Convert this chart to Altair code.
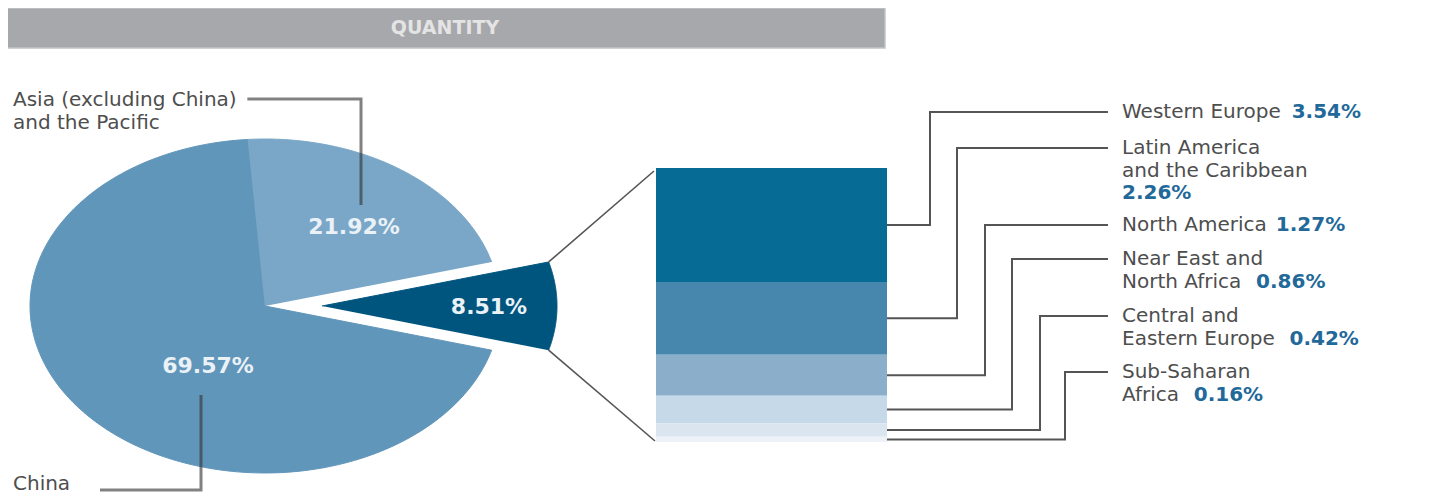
import altair as alt
import numpy as np
import pandas as pd

# ---------------- data ----------------
title_text = "QUANTITY"

pie_regions = ["Asia (excluding China) and the Pacific", "Other regions", "China"]
pie_values = [21.92, 8.51, 69.57]
pie_name_lines = [["Asia (excluding China)", "and the Pacific"], [], ["China"]]

bar_regions = [
    "Western Europe",
    "Latin America and the Caribbean",
    "North America",
    "Near East and North Africa",
    "Central and Eastern Europe",
    "Sub-Saharan Africa",
]
bar_values = [3.54, 2.26, 1.27, 0.86, 0.42, 0.16]
bar_name_lines = [
    ["Western Europe"],
    ["Latin America", "and the Caribbean"],
    ["North America"],
    ["Near East and", "North Africa"],
    ["Central and", "Eastern Europe"],
    ["Sub-Saharan", "Africa"],
]
value_on_new_line = [False, True, False, False, False, False]

# ---------------- styles ----------------
FONT = "DejaVu Sans"
pie_colors = ["#7aa7c7", "#00557f", "#6196bb"]
bar_colors = ["#066b95", "#4787ae", "#8bafcb", "#c6d9e8", "#dae5f0", "#edf2f8"]
TEXT_GRAY = "#4e4e4e"
VALUE_BLUE = "#22699a"
PIE_TEXT = "#eaf1f7"
TITLE_BG = "#a7a8ab"
TITLE_FG = "#e4e4e4"
LINE_DARK = "#555555"

# ---------------- layout (reference pixel coordinates) ----------------
W, H = 1428, 487
xs = alt.Scale(domain=[8, 8 + W], range=[0, W], nice=False, zero=False)
ys = alt.Scale(domain=[8, 8 + H], range=[0, H], nice=False, zero=False)

CX, CY, RX, RY = 265, 306, 235, 167
START_DEG = -4.2
EXPLODED = "Other regions"
EXPLODE_DX = 57
N_STEPS = 120

BAR_X0, BAR_X1, BAR_Y0, BAR_Y1 = 656, 887, 168, 442
NAME_SIZE = 20
LINE_H = 22.5
TEXT_X = 1122
LEADER_END = 1108
bar_label_y = [112, 148, 225, 259, 316, 372]
leader_x = [930, 957, 985, 1012, 1040, 1065]
value_gap = [9, 0, 9, 14, 14, 14]

pie_value_pos = [(354, 227), (489, 307), (208, 366)]
pie_name_pos = [(13, 100), None, (13, 484)]

ADV = {' ': 651, '(': 799, ')': 799, '-': 739, '.': 651, '%': 1946,
       'A': 1401, 'C': 1430, 'E': 1294, 'L': 1141, 'N': 1532, 'P': 1235,
       'S': 1300, 'W': 2025, 'a': 1255, 'b': 1300, 'c': 1126, 'd': 1300,
       'e': 1260, 'f': 721, 'g': 1300, 'h': 1298, 'i': 569, 'l': 569,
       'm': 1995, 'n': 1298, 'o': 1253, 'p': 1300, 'r': 842, 's': 1067,
       't': 803, 'u': 1298, 'x': 1212}


def text_w(s, size):
    return sum(ADV.get(ch, 1200) for ch in s) / 2048 * size


def X(f):
    return alt.X(f, type="quantitative", scale=xs, axis=None)


def Y(f):
    return alt.Y(f, type="quantitative", scale=ys, axis=None)


layers = []

# ---------------- title bar ----------------
title_df = pd.DataFrame({"x0": [5], "x1": [885], "y0": [8], "y1": [48], "tx": [445], "ty": [28], "text": [title_text]})
layers.append(
    alt.Chart(title_df).mark_rect(color=TITLE_BG, stroke="#c2c3c5", strokeWidth=1.5)
    .encode(x=X("x0"), x2=alt.X2("x1"), y=Y("y0"), y2=alt.Y2("y1"))
)
layers.append(
    alt.Chart(title_df).mark_text(font=FONT, fontSize=19, fontWeight="bold", color=TITLE_FG,
                                  align="center", baseline="middle")
    .encode(x=X("tx"), y=Y("ty"), text="text:N")
)

# ---------------- elliptical pie ----------------
pie_df = pd.DataFrame({"region": pie_regions, "value": pie_values, "idx": list(range(len(pie_regions)))})
start_rad = np.deg2rad(START_DEG)
pie_base = (
    alt.Chart(pie_df)
    .transform_window(cum="sum(value)", sort=[alt.SortField("idx")], frame=[None, 0])
    .transform_joinaggregate(total="sum(value)")
    .transform_calculate(
        t0=f"{start_rad} + 2*PI*(datum.cum - datum.value)/datum.total",
        t1=f"{start_rad} + 2*PI*datum.cum/datum.total",
        dx=f"datum.region == '{EXPLODED}' ? {EXPLODE_DX} : 0",
        k=f"sequence(0, {N_STEPS + 2})",
    )
    .transform_flatten(["k"])
    .transform_calculate(
        t=f"datum.t0 + (datum.t1 - datum.t0) * (datum.k - 1) / {N_STEPS}",
    )
    .transform_calculate(
        px=f"{CX} + datum.dx + (datum.k == 0 ? 0 : {RX} * sin(datum.t))",
        py=f"{CY} - (datum.k == 0 ? 0 : {RY} * cos(datum.t))",
    )
)
for r, c in zip(pie_regions, pie_colors):
    layers.append(
        pie_base.transform_filter(alt.datum.region == r)
        .mark_line(fill=c, stroke=c, strokeWidth=1, strokeJoin="round")
        .encode(x=X("px"), y=Y("py"), order=alt.Order("k:Q"))
    )

# pie values
pv_df = pd.DataFrame({
    "text": [f"{v:.2f}%" for v in pie_values],
    "x": [p[0] for p in pie_value_pos],
    "y": [p[1] for p in pie_value_pos],
})
layers.append(
    alt.Chart(pv_df).mark_text(font=FONT, fontSize=22, fontWeight="bold", color=PIE_TEXT,
                               align="center", baseline="middle")
    .encode(x=X("x"), y=Y("y"), text="text:N")
)

# pie names
pn_rows = []
for lines, pos in zip(pie_name_lines, pie_name_pos):
    if not lines:
        continue
    for i, ln in enumerate(lines):
        pn_rows.append({"text": ln, "x": pos[0], "y": pos[1] + i * 23})
pn_df = pd.DataFrame(pn_rows)
layers.append(
    alt.Chart(pn_df).mark_text(font=FONT, fontSize=NAME_SIZE, color=TEXT_GRAY, align="left", baseline="middle")
    .encode(x=X("x"), y=Y("y"), text="text:N")
)

# pie leaders
asia_end = 13 + text_w(pie_name_lines[0][0], NAME_SIZE) + 10
pl_rows = [
    {"g": "asia", "o": 0, "x": asia_end, "y": 99},
    {"g": "asia", "o": 1, "x": 361, "y": 99},
    {"g": "asia", "o": 2, "x": 361, "y": 205},
    {"g": "china", "o": 0, "x": 100, "y": 490},
    {"g": "china", "o": 1, "x": 201, "y": 490},
    {"g": "china", "o": 2, "x": 201, "y": 395},
]
layers.append(
    alt.Chart(pd.DataFrame(pl_rows)).mark_line(color="#333333", opacity=0.62, strokeWidth=3)
    .encode(x=X("x"), y=Y("y"), detail="g:N", order=alt.Order("o:Q"))
)

# ---------------- connectors pie -> bar ----------------
tot = sum(pie_values)
a_before = sum(pie_values[: pie_regions.index(EXPLODED)])
ta = start_rad + 2 * np.pi * a_before / tot
tb = ta + 2 * np.pi * pie_values[pie_regions.index(EXPLODED)] / tot
conn_df = pd.DataFrame({
    "x": [CX + EXPLODE_DX + RX * np.sin(ta), CX + EXPLODE_DX + RX * np.sin(tb)],
    "y": [CY - RY * np.cos(ta), CY - RY * np.cos(tb)],
    "x2": [BAR_X0 - 2, BAR_X0 - 1],
    "y2": [BAR_Y0 + 3, BAR_Y1 - 1],
})
layers.append(
    alt.Chart(conn_df).mark_rule(color=LINE_DARK, strokeWidth=1.6)
    .encode(x=X("x"), y=Y("y"), x2=alt.X2("x2"), y2=alt.Y2("y2"))
)

# ---------------- stacked bar ----------------
bar_df = pd.DataFrame({"region": bar_regions, "value": bar_values, "idx": list(range(len(bar_regions)))})
bar_h = BAR_Y1 - BAR_Y0
layers.append(
    alt.Chart(bar_df)
    .transform_window(cum="sum(value)", sort=[alt.SortField("idx")], frame=[None, 0])
    .transform_joinaggregate(total="sum(value)")
    .transform_calculate(
        y0=f"{BAR_Y0} + (datum.cum - datum.value) * {bar_h} / datum.total",
        y1=f"{BAR_Y0} + datum.cum * {bar_h} / datum.total",
        x0=f"{BAR_X0}",
        x1=f"{BAR_X1}",
    )
    .mark_rect()
    .encode(
        x=X("x0"), x2=alt.X2("x1"), y=Y("y0"), y2=alt.Y2("y1"),
        color=alt.Color("region:N", scale=alt.Scale(domain=bar_regions, range=bar_colors), legend=None),
    )
)

# bar leaders
bv = np.array(bar_values)
cum = np.cumsum(bv)
mids = BAR_Y0 + (cum - bv / 2) * bar_h / bv.sum()
bl_rows = []
for i, r in enumerate(bar_regions):
    pts = [(BAR_X1, mids[i]), (leader_x[i], mids[i]), (leader_x[i], bar_label_y[i]), (LEADER_END, bar_label_y[i])]
    for o, (px, py) in enumerate(pts):
        bl_rows.append({"g": r, "o": o, "x": px, "y": py})
layers.append(
    alt.Chart(pd.DataFrame(bl_rows)).mark_line(color=LINE_DARK, strokeWidth=2)
    .encode(x=X("x"), y=Y("y"), detail="g:N", order=alt.Order("o:Q"))
)

# bar labels
bn_rows, bval_rows = [], []
for i, lines in enumerate(bar_name_lines):
    for j, ln in enumerate(lines):
        bn_rows.append({"text": ln, "x": TEXT_X, "y": bar_label_y[i] + j * LINE_H})
    vtext = f"{bar_values[i]:.2f}%"
    if value_on_new_line[i]:
        bval_rows.append({"text": vtext, "x": TEXT_X, "y": bar_label_y[i] + len(lines) * LINE_H})
    else:
        last = lines[-1]
        bval_rows.append({"text": vtext, "x": TEXT_X + text_w(last, NAME_SIZE) + value_gap[i],
                          "y": bar_label_y[i] + (len(lines) - 1) * LINE_H})
layers.append(
    alt.Chart(pd.DataFrame(bn_rows)).mark_text(font=FONT, fontSize=NAME_SIZE, color=TEXT_GRAY, align="left", baseline="middle")
    .encode(x=X("x"), y=Y("y"), text="text:N")
)
layers.append(
    alt.Chart(pd.DataFrame(bval_rows)).mark_text(font=FONT, fontSize=NAME_SIZE, fontWeight="bold", color=VALUE_BLUE,
                                                 align="left", baseline="middle")
    .encode(x=X("x"), y=Y("y"), text="text:N")
)

chart = (
    alt.layer(*layers)
    .properties(width=W, height=H, autosize=alt.AutoSizeParams(type="none"), padding=0, background="white")
    .configure_view(stroke=None)
)

chart.save("out.html", embed_options={"renderer": "svg", "actions": False})
